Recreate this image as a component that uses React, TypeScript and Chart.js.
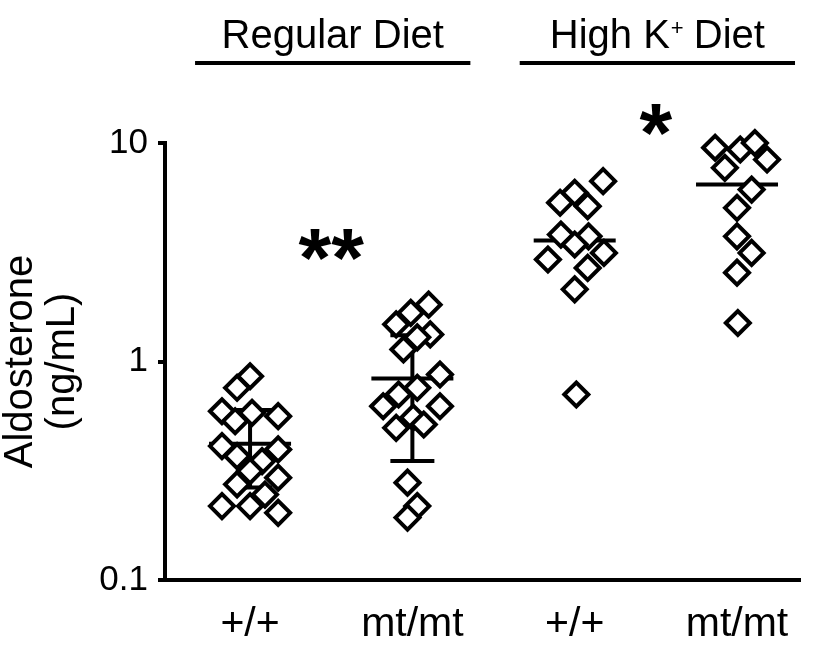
import React, { useEffect, useRef } from 'react';
import { Chart, registerables } from 'chart.js';

Chart.register(...registerables);

// ---------- data ----------
const groupLabels = ['+/+', 'mt/mt', '+/+', 'mt/mt'];
const dietNames = ['Regular Diet', 'High K⁺ Diet'];
const dietSpans = [[0, 1], [2, 3]];

// Aldosterone (ng/mL), one value per animal
const regularWt = [0.856, 0.758, 0.592, 0.533, 0.582, 0.562, 0.41, 0.369, 0.35, 0.396, 0.315, 0.274, 0.294, 0.246, 0.218, 0.218, 0.203];
const regularMt = [1.82, 1.67, 1.48, 1.33, 1.29, 1.135, 0.872, 0.758, 0.706, 0.624, 0.624, 0.554, 0.515, 0.497, 0.279, 0.218, 0.193];
const highKWt = [6.69, 5.92, 5.33, 5.14, 3.81, 3.74, 3.43, 3.14, 2.93, 2.68, 2.14, 0.706];
const highKMt = [9.51, 9.34, 10.0, 8.4, 7.7, 6.12, 5.05, 3.74, 3.14, 2.55, 1.5];

// horizontal scatter (jitter) of each point within its group, in category units
const regularWtJitter = [0, -0.08, -0.173, -0.092, 0.012, 0.173, -0.173, -0.08, 0.074, 0.173, 0, -0.08, 0.173, 0.092, -0.173, 0, 0.173];
const regularMtJitter = [0.1, -0.01, -0.1, 0.11, 0.03, -0.055, 0.17, 0.03, -0.085, -0.18, 0.17, 0.005, 0.07, -0.1, -0.03, 0.03, -0.03];
const highKWtJitter = [0.175, 0, -0.09, 0.08, -0.085, 0.085, 0, 0.18, -0.165, 0.08, 0, 0.01];
const highKMtJitter = [-0.135, 0.02, 0.11, 0.185, -0.075, 0.09, 0, 0, 0.09, 0, 0.005];

const groupMeans = [0.42, 0.836, 3.58, 6.45];
const groupErrLow: (number | null)[] = [0.265, 0.35, null, null];
const groupErrHigh: (number | null)[] = [0.6, 1.32, null, null];

const significance = [
  { text: '**', groups: [0, 1], value: 3.4 },
  { text: '*', groups: [2, 3], value: 12.8 },
];

const yTicks = [0.1, 1, 10];

const FONT = "'Liberation Sans', Arial, Helvetica, sans-serif";

const groups = [
  { values: regularWt, jitter: regularWtJitter },
  { values: regularMt, jitter: regularMtJitter },
  { values: highKWt, jitter: highKWtJitter },
  { values: highKMt, jitter: highKMtJitter },
];

function drawDietName(ctx: CanvasRenderingContext2D, name: string, cx: number, baseline: number) {
  const parts = name.split('⁺');
  ctx.fillStyle = '#000';
  ctx.textBaseline = 'alphabetic';
  const mainFont = `40px ${FONT}`;
  const supFont = `22px ${FONT}`;
  if (parts.length === 1) {
    ctx.font = mainFont;
    ctx.textAlign = 'center';
    ctx.fillText(name, cx, baseline);
    return;
  }
  ctx.font = mainFont;
  const w0 = ctx.measureText(parts[0]).width;
  const w1 = ctx.measureText(parts[1]).width;
  ctx.font = supFont;
  const ws = ctx.measureText('+').width;
  const start = cx - (w0 + ws + w1) / 2;
  ctx.textAlign = 'left';
  ctx.font = mainFont;
  ctx.fillText(parts[0], start, baseline);
  ctx.font = supFont;
  ctx.fillText('+', start + w0 + 1, baseline - 13);
  ctx.font = mainFont;
  ctx.fillText(parts[1], start + w0 + ws, baseline);
}

const annotationPlugin = {
  id: 'dotplotAnnotations',
  beforeDatasetsDraw(chart: any) {
    const { ctx, scales } = chart;
    const x = scales.x;
    const y = scales.y;
    ctx.save();
    ctx.strokeStyle = '#000';
    ctx.lineWidth = 4;
    ctx.lineCap = 'butt';
    const seg = (x1: number, y1: number, x2: number, y2: number) => {
      ctx.beginPath();
      ctx.moveTo(x1, y1);
      ctx.lineTo(x2, y2);
      ctx.stroke();
    };
    groupMeans.forEach((m, i) => {
      const cx = x.getPixelForValue(i + 1);
      const my = y.getPixelForValue(m);
      seg(cx - 41, my, cx + 41, my);
      const lo = groupErrLow[i];
      const hi = groupErrHigh[i];
      if (lo != null && hi != null) {
        const ly = y.getPixelForValue(lo);
        const hy = y.getPixelForValue(hi);
        seg(cx, ly, cx, hy);
        seg(cx - 22, ly, cx + 22, ly);
        seg(cx - 22, hy, cx + 22, hy);
      }
    });
    ctx.restore();
  },
  afterDraw(chart: any) {
    const { ctx, scales } = chart;
    const x = scales.x;
    const y = scales.y;
    ctx.save();
    // diet headers with underline
    dietNames.forEach((name, i) => {
      const [a, b] = dietSpans[i];
      const x1 = x.getPixelForValue(a + 1) - 55;
      const x2 = x.getPixelForValue(b + 1) + 58;
      ctx.strokeStyle = '#000';
      ctx.lineWidth = 4;
      ctx.beginPath();
      ctx.moveTo(x1, 63);
      ctx.lineTo(x2, 63);
      ctx.stroke();
      drawDietName(ctx, name, (x1 + x2) / 2, 48);
    });
    // significance marks
    significance.forEach((s) => {
      const cx = (x.getPixelForValue(s.groups[0] + 1) + x.getPixelForValue(s.groups[1] + 1)) / 2;
      const cy = y.getPixelForValue(s.value);
      ctx.font = `bold 84px ${FONT}`;
      ctx.fillStyle = '#000';
      ctx.textAlign = 'center';
      ctx.textBaseline = 'alphabetic';
      const m = ctx.measureText(s.text);
      const off = (m.actualBoundingBoxAscent - m.actualBoundingBoxDescent) / 2;
      ctx.fillText(s.text, cx, cy + off);
    });
    ctx.restore();
  },
};

export default function App() {
  const canvasRef = useRef<HTMLCanvasElement | null>(null);

  useEffect(() => {
    document.body.style.margin = '0';
    const canvas = canvasRef.current;
    if (!canvas) return;

    const datasets = groups.map((g, gi) => ({
      label: groupLabels[gi],
      data: g.values.map((v, i) => ({ x: gi + 1 + g.jitter[i], y: v })),
      pointStyle: 'rectRot' as const,
      pointRadius: 12,
      pointHoverRadius: 12,
      pointBorderWidth: 4,
      pointBorderColor: '#000',
      pointBackgroundColor: '#fff',
      showLine: false,
      clip: false as any,
    }));

    const chart = new Chart(canvas, {
      type: 'scatter',
      data: { datasets },
      plugins: [annotationPlugin],
      options: {
        animation: false,
        responsive: false,
        events: [],
        layout: { padding: { top: 143, right: 19, left: 0, bottom: 0 } },
        plugins: {
          legend: { display: false },
          tooltip: { enabled: false },
        },
        scales: {
          x: {
            type: 'linear',
            min: 0.476,
            max: 4.388,
            afterBuildTicks: (scale: any) => {
              scale.ticks = groupLabels.map((_, i) => ({ value: i + 1 }));
            },
            afterFit: (scale: any) => {
              scale.height = 73;
            },
            grid: { display: false, drawTicks: false },
            border: { display: true, color: '#000', width: 4 },
            ticks: {
              autoSkip: false,
              maxRotation: 0,
              padding: 20,
              color: '#000',
              font: { family: FONT, size: 41 },
              callback: (v: any) => groupLabels[Math.round(Number(v)) - 1] ?? '',
            },
          },
          y: {
            type: 'logarithmic',
            min: 0.1,
            max: 10,
            afterBuildTicks: (scale: any) => {
              scale.ticks = yTicks.map((v) => ({ value: v }));
            },
            afterFit: (scale: any) => {
              scale.width = 165;
            },
            grid: {
              display: true,
              drawOnChartArea: false,
              drawTicks: true,
              tickLength: 7,
              lineWidth: 4,
              color: '#000',
            },
            border: { display: true, color: '#000', width: 4 },
            ticks: {
              padding: 10,
              color: '#000',
              font: { family: FONT, size: 35 },
              callback: (v: any) => {
                const n = Number(v);
                return n < 1 ? n.toFixed(1) : String(Math.round(n));
              },
            },
            title: {
              display: true,
              text: ['Aldosterone', '(ng/mL)'],
              color: '#000',
              font: { family: FONT, size: 40, lineHeight: 1.05 },
              padding: 0,
            },
          },
        },
      },
    });

    return () => {
      chart.destroy();
    };
  }, []);

  return (
    <div style={{ width: 819, height: 653 }}>
      <canvas ref={canvasRef} width={819} height={653} style={{ display: 'block' }} />
    </div>
  );
}
